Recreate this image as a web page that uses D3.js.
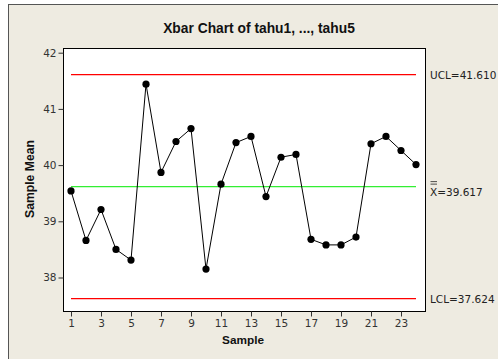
<!DOCTYPE html>
<html>
<head>
<meta charset="utf-8">
<script src="https://cdn.jsdelivr.net/npm/d3@7/dist/d3.min.js"></script>
<style>
  html, body { margin: 0; padding: 0; background: #ffffff; }
  svg { display: block; }
  text { font-family: "Liberation Sans", Arial, sans-serif; }
</style>
</head>
<body>
<svg id="chart" width="498" height="359"></svg>
<script>
// Subgroup means for samples 1..24
const samples = d3.range(1, 25);
const means = [39.54, 38.66, 39.21, 38.50, 38.31, 41.44, 39.87, 40.42, 40.65, 38.15,
               39.66, 40.40, 40.51, 39.44, 40.14, 40.19, 38.68, 38.58, 38.58, 38.72,
               40.38, 40.51, 40.26, 40.01];
const ucl = 41.610;
const centerLine = 39.617;
const lcl = 37.624;
const xTicks = [1, 3, 5, 7, 9, 11, 13, 15, 17, 19, 21, 23];
const yTicks = [38, 39, 40, 41, 42];

const svg = d3.select("#chart");

// Figure panel
svg.append("rect")
  .attr("x", 8.5).attr("y", 4.5)
  .attr("width", 500).attr("height", 360)
  .attr("fill", "#eeebe1")
  .attr("stroke", "#555").attr("stroke-width", 1);

const plot = { left: 63, top: 48, right: 425, bottom: 311 };

const x = d3.scaleLinear().domain([1, 23]).range([71, 401]);
const y = d3.scaleLinear().domain([38, 42]).range([277.5, 52.7]);

// Data region
svg.append("rect")
  .attr("x", plot.left + 0.5).attr("y", plot.top + 0.5)
  .attr("width", plot.right - plot.left).attr("height", plot.bottom - plot.top)
  .attr("fill", "#ffffff")
  .attr("stroke", "#000").attr("stroke-width", 1);

// Axes
const xAxis = svg.append("g")
  .attr("transform", `translate(0,${plot.bottom + 0.5})`)
  .call(d3.axisBottom(x).tickValues(xTicks).tickSize(5).tickPadding(3).tickFormat(d3.format("d")));
const yAxis = svg.append("g")
  .attr("transform", `translate(${plot.left + 0.5},0)`)
  .call(d3.axisLeft(y).tickValues(yTicks).tickSize(5).tickPadding(2).tickFormat(d3.format("d")));
[xAxis, yAxis].forEach(g => {
  g.select(".domain").remove();
  g.selectAll(".tick line").attr("stroke", "#333");
  g.selectAll(".tick text")
    .attr("fill", "#333")
    .style("font-family", "'DejaVu Sans', Verdana, sans-serif")
    .style("font-size", "10.5px");
});

// Control limits and center line
const x0 = x(1), x1 = x(24);
[[ucl, "#ff0000"], [lcl, "#ff0000"], [centerLine, "#33ee33"]].forEach(([v, c]) => {
  svg.append("line")
    .attr("x1", x0).attr("x2", x1)
    .attr("y1", y(v)).attr("y2", y(v))
    .attr("stroke", c).attr("stroke-width", 1.3);
});

// Series line and markers
const pts = samples.map((s, i) => [s, means[i]]);
svg.append("path")
  .datum(pts)
  .attr("fill", "none")
  .attr("stroke", "#000")
  .attr("stroke-width", 1)
  .attr("d", d3.line().x(d => x(d[0])).y(d => y(d[1])));
svg.selectAll("circle.pt")
  .data(pts)
  .join("circle")
  .attr("class", "pt")
  .attr("cx", d => x(d[0]))
  .attr("cy", d => y(d[1]))
  .attr("r", 3.6)
  .attr("fill", "#000");

// Limit labels
const labelFont = "'DejaVu Sans', Verdana, sans-serif";
const lx = 430;
svg.append("text").attr("x", lx).attr("y", y(ucl) + 4)
  .style("font-family", labelFont).style("font-size", "10.5px").attr("fill", "#222")
  .text(`UCL=${ucl.toFixed(3)}`);
svg.append("text").attr("x", lx).attr("y", y(lcl) + 4)
  .style("font-family", labelFont).style("font-size", "10.5px").attr("fill", "#222")
  .text(`LCL=${lcl.toFixed(3)}`);
svg.append("text").attr("x", lx).attr("y", y(centerLine) + 9)
  .style("font-family", labelFont).style("font-size", "10.5px").attr("fill", "#222")
  .text(`X=${centerLine.toFixed(3)}`);
// double bar over the X
[0, 2.5].forEach(dy => {
  svg.append("line")
    .attr("x1", lx + 0.5).attr("x2", lx + 7)
    .attr("y1", y(centerLine) - 5 + dy).attr("y2", y(centerLine) - 5 + dy)
    .attr("stroke", "#222").attr("stroke-width", 0.8);
});

// Titles
svg.append("text")
  .attr("x", 259).attr("y", 33)
  .attr("text-anchor", "middle")
  .style("font-weight", "bold").style("font-size", "13.8px").attr("fill", "#111")
  .text("Xbar Chart of tahu1, ..., tahu5");
svg.append("text")
  .attr("x", 243).attr("y", 344)
  .attr("text-anchor", "middle")
  .style("font-weight", "bold").style("font-size", "11.8px").attr("fill", "#111")
  .text("Sample");
svg.append("text")
  .attr("transform", "translate(34,179) rotate(-90)")
  .attr("text-anchor", "middle")
  .style("font-weight", "bold").style("font-size", "12.2px").attr("fill", "#111")
  .text("Sample Mean");
</script>
</body>
</html>
